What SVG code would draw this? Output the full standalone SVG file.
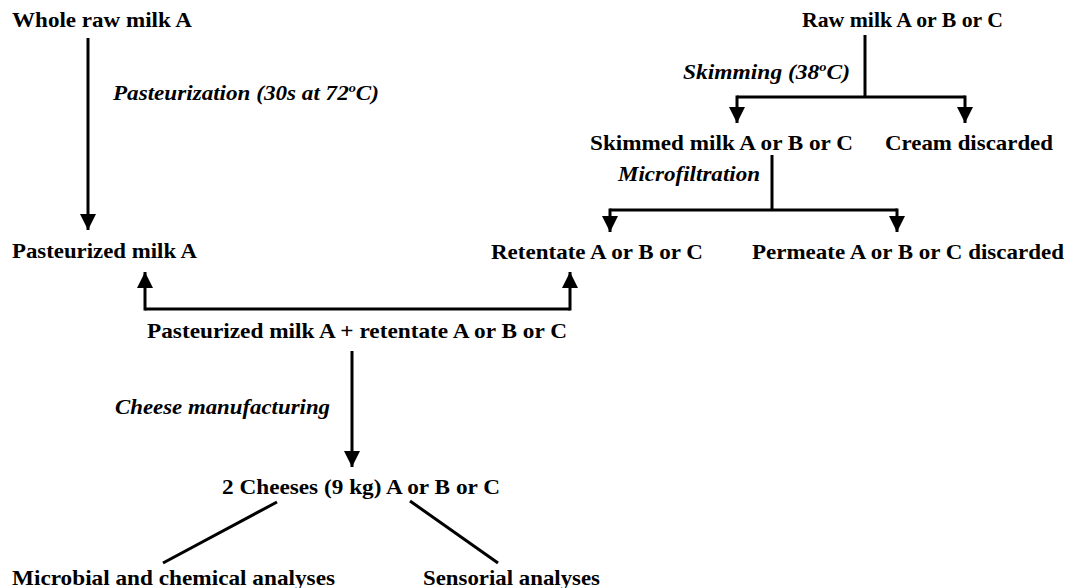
<svg xmlns="http://www.w3.org/2000/svg" width="1068" height="588" viewBox="0 0 1068 588">
<style>
.n{font-family:"Liberation Serif","Times New Roman",serif;font-weight:bold;font-size:21px;fill:#000}
.l{font-family:"Liberation Serif","Times New Roman",serif;font-weight:bold;font-style:italic;font-size:21px;fill:#000}
.c{fill:none;stroke:#000;stroke-width:3}
</style>
<defs>
<marker id="ah" markerUnits="userSpaceOnUse" markerWidth="18" markerHeight="16" viewBox="0 0 18 16" refX="16" refY="8" orient="auto">
<path d="M0,0 L16,8 L0,16 Z" fill="#000"/>
</marker>
</defs>
<rect width="1068" height="588" fill="#fff"/>
<g id="connectors">
<line class="c" x1="88" y1="38" x2="88" y2="230" marker-end="url(#ah)"/>
<path class="c" d="M865,35 V97"/>
<path class="c" d="M737,97 H965"/>
<line class="c" x1="737" y1="95.5" x2="737" y2="123" marker-end="url(#ah)"/>
<line class="c" x1="965" y1="95.5" x2="965" y2="123" marker-end="url(#ah)"/>
<path class="c" d="M772,155 V210"/>
<path class="c" d="M610,210 H897"/>
<line class="c" x1="610" y1="208.5" x2="610" y2="232" marker-end="url(#ah)"/>
<line class="c" x1="897" y1="208.5" x2="897" y2="232" marker-end="url(#ah)"/>
<path class="c" d="M145,309 H570"/>
<line class="c" x1="145" y1="310.5" x2="145" y2="272" marker-end="url(#ah)"/>
<line class="c" x1="570" y1="310.5" x2="570" y2="272" marker-end="url(#ah)"/>
<line class="c" x1="352" y1="351" x2="352" y2="467" marker-end="url(#ah)"/>
<line class="c" x1="277" y1="502" x2="163" y2="563"/>
<line class="c" x1="410" y1="501" x2="498" y2="563"/>
</g>
<g id="whole-raw-milk"><text class="n" x="12" y="27" textLength="180" lengthAdjust="spacingAndGlyphs">Whole raw milk A</text></g>
<g id="pasteurization-label"><text class="l" x="113" y="100" textLength="266" lengthAdjust="spacingAndGlyphs">Pasteurization (30s at 72<tspan dy="-8" font-size="13">o</tspan><tspan dy="8">C)</tspan></text></g>
<g id="pasteurized-milk"><text class="n" x="12" y="258" textLength="185" lengthAdjust="spacingAndGlyphs">Pasteurized milk A</text></g>
<g id="raw-milk"><text class="n" x="802" y="27" textLength="201" lengthAdjust="spacingAndGlyphs">Raw milk A or B or C</text></g>
<g id="skimming-label"><text class="l" x="683" y="79" textLength="167" lengthAdjust="spacingAndGlyphs">Skimming (38<tspan dy="-8" font-size="13">o</tspan><tspan dy="8">C)</tspan></text></g>
<g id="skimmed-milk"><text class="n" x="590" y="150" textLength="263" lengthAdjust="spacingAndGlyphs">Skimmed milk A or B or C</text></g>
<g id="cream"><text class="n" x="885" y="150" textLength="168" lengthAdjust="spacingAndGlyphs">Cream discarded</text></g>
<g id="microfiltration-label"><text class="l" x="618" y="181" textLength="142" lengthAdjust="spacingAndGlyphs">Microfiltration</text></g>
<g id="retentate"><text class="n" x="491" y="259" textLength="212" lengthAdjust="spacingAndGlyphs">Retentate A or B or C</text></g>
<g id="permeate"><text class="n" x="752" y="259" textLength="312" lengthAdjust="spacingAndGlyphs">Permeate A or B or C discarded</text></g>
<g id="mix"><text class="n" x="147" y="338" textLength="420" lengthAdjust="spacingAndGlyphs">Pasteurized milk A + retentate A or B or C</text></g>
<g id="cheese-label"><text class="l" x="115" y="414" textLength="215" lengthAdjust="spacingAndGlyphs">Cheese manufacturing</text></g>
<g id="cheeses"><text class="n" x="222" y="494" textLength="278" lengthAdjust="spacingAndGlyphs">2 Cheeses (9 kg) A or B or C</text></g>
<g id="microbial"><text class="n" x="12" y="585" textLength="323" lengthAdjust="spacingAndGlyphs">Microbial and chemical analyses</text></g>
<g id="sensorial"><text class="n" x="423" y="585" textLength="177" lengthAdjust="spacingAndGlyphs">Sensorial analyses</text></g>
</svg>
